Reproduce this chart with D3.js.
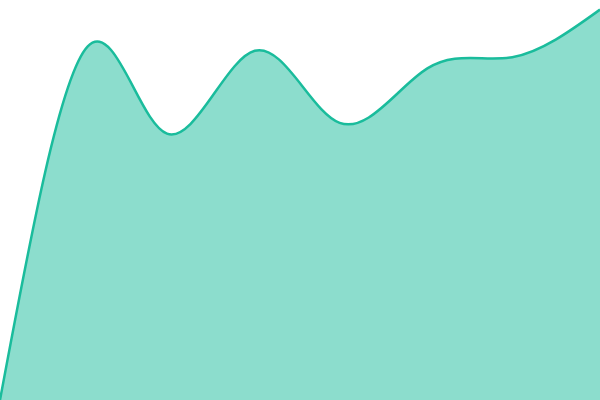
<!DOCTYPE html>
<html>
<head>
    <script src="https://cdn.jsdelivr.net/npm/d3@7"></script>
    <style>
        body { margin: 0; background: #fff; }
    </style>
</head>
<body>
    <div id="chart"></div>
    <script>
        // monthly readings, values
        let months = ["2023-01-01", "2023-02-01", "2023-03-01", "2023-04-01",
                      "2023-05-01", "2023-06-01", "2023-07-01", "2023-08-01"];
        let values = [0, 88.4, 66.6, 87.3, 69.3, 82.9, 85.7, 97.6];

        let width = 600, height = 400;

        let svg = d3.select("#chart").append("svg")
            .attr("width", width)
            .attr("height", height);

        let parseDate = d3.timeParse("%Y-%m-%d");
        let data = months.map((m, i) => ({ date: parseDate(m), value: values[i] }));

        let x = d3.scaleTime().domain(d3.extent(data, d => d.date)).range([0, width]);
        let y = d3.scaleLinear().domain([0, 100]).range([height, 0]);

        let area = d3.area()
            .x(d => x(d.date))
            .y0(height)
            .y1(d => y(d.value))
            .curve(d3.curveNatural);

        let line = d3.line()
            .x(d => x(d.date))
            .y(d => y(d.value))
            .curve(d3.curveNatural);

        svg.append("path")
            .datum(data)
            .attr("d", area)
            .style("fill", "#1abc9c")
            .style("fill-opacity", 0.5);

        svg.append("path")
            .datum(data)
            .attr("d", line)
            .style("fill", "none")
            .style("stroke", "#1abc9c")
            .style("stroke-width", 2.5);
    </script>
</body>
</html>
